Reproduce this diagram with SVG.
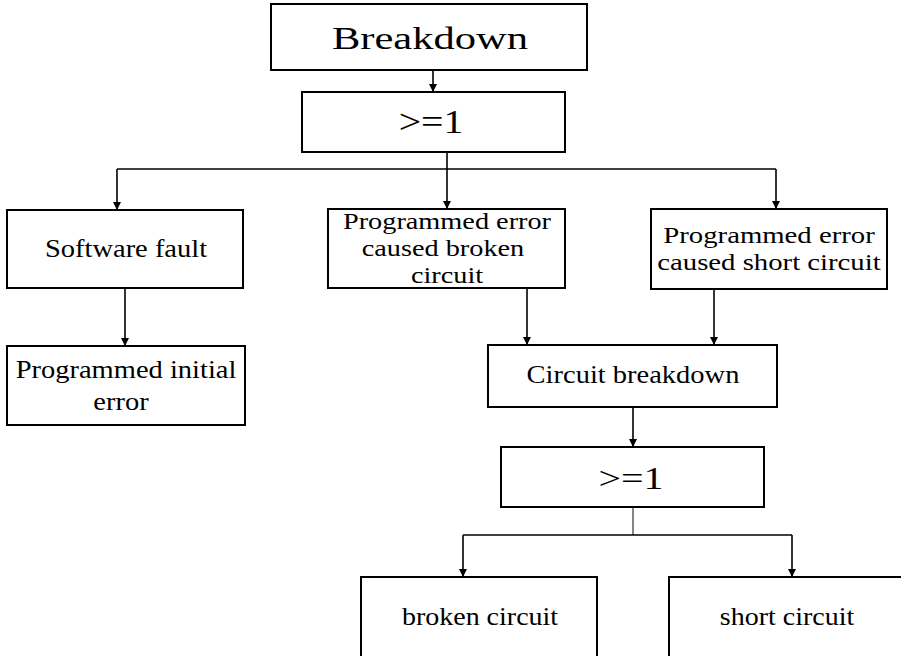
<svg xmlns="http://www.w3.org/2000/svg" width="901" height="656" viewBox="0 0 901 656">
  <defs>
    <marker id="arrow" viewBox="0 0 8 8" refX="8" refY="4" markerWidth="8" markerHeight="8" markerUnits="userSpaceOnUse" orient="auto">
      <path d="M0,0 L8,4 L0,8 Z" fill="#000"/>
    </marker>
    <style>
      .box { fill: #fff; stroke: #000; stroke-width: 2; }
      text { font-family: "Liberation Serif", "Times New Roman", serif; fill: #000; text-anchor: middle; }
      .edge { fill: none; stroke: #000; stroke-width: 1.6; }
      .arr { marker-end: url(#arrow); }
      .gray { stroke: #666; }
    </style>
  </defs>
  <rect width="901" height="656" fill="#fff"/>

  <!-- connectors -->
  <g id="connectors">
    <path class="edge arr" d="M433,70 V92"/>
    <path class="edge" d="M117,169 H776"/>
    <path class="edge arr" d="M447,152 V209"/>
    <path class="edge arr" d="M117,169 V210"/>
    <path class="edge arr" d="M776,169 V209"/>
    <path class="edge arr" d="M125,288 V346"/>
    <path class="edge arr" d="M527,288 V345"/>
    <path class="edge arr" d="M714,289 V345"/>
    <path class="edge arr" d="M633,407 V447"/>
    <path class="edge gray" d="M633,507 V535"/>
    <path class="edge" d="M463,535 H792"/>
    <path class="edge arr" d="M463,535 V577"/>
    <path class="edge arr" d="M792,535 V577"/>
  </g>

  <!-- labels are stretched horizontally with scale(sx,1) about their anchor -->
  <g id="breakdown">
    <rect class="box" x="271" y="4" width="316" height="66"/>
    <text transform="translate(430,49) scale(1.33,1)" font-size="32">Breakdown</text>
  </g>

  <g id="or-gate-top">
    <rect class="box" x="302" y="92" width="263" height="60"/>
    <text transform="translate(431,133) scale(1.17,1)" font-size="34">&gt;=1</text>
  </g>

  <g id="software-fault">
    <rect class="box" x="7" y="210" width="236" height="78"/>
    <text transform="translate(126,257) scale(1.14,1)" font-size="25">Software fault</text>
  </g>

  <g id="programmed-initial-error">
    <rect class="box" x="7" y="346" width="238" height="79"/>
    <text transform="translate(126,378) scale(1.14,1)" font-size="25">Programmed initial</text>
    <text transform="translate(121,410) scale(1.14,1)" font-size="25">error</text>
  </g>

  <g id="error-broken-circuit">
    <rect class="box" x="328" y="209" width="237" height="79"/>
    <text transform="translate(447,229) scale(1.23,1)" font-size="23">Programmed error</text>
    <text transform="translate(443,256) scale(1.23,1)" font-size="23">caused broken</text>
    <text transform="translate(447,283) scale(1.23,1)" font-size="23">circuit</text>
  </g>

  <g id="error-short-circuit">
    <rect class="box" x="651" y="209" width="236" height="80"/>
    <text transform="translate(769,243) scale(1.25,1)" font-size="23">Programmed error</text>
    <text transform="translate(769,270) scale(1.25,1)" font-size="23">caused short circuit</text>
  </g>

  <g id="circuit-breakdown">
    <rect class="box" x="488" y="345" width="289" height="62"/>
    <text transform="translate(633,383) scale(1.14,1)" font-size="25">Circuit breakdown</text>
  </g>

  <g id="or-gate-bottom">
    <rect class="box" x="501" y="447" width="263" height="60"/>
    <text transform="translate(631,489) scale(1.29,1)" font-size="31">&gt;=1</text>
  </g>

  <g id="broken-circuit">
    <rect class="box" x="361" y="577" width="236" height="100"/>
    <text transform="translate(480,625) scale(1.12,1)" font-size="25">broken circuit</text>
  </g>

  <g id="short-circuit">
    <rect class="box" x="669" y="577" width="250" height="100"/>
    <text transform="translate(787,625) scale(1.12,1)" font-size="25">short circuit</text>
  </g>
</svg>
